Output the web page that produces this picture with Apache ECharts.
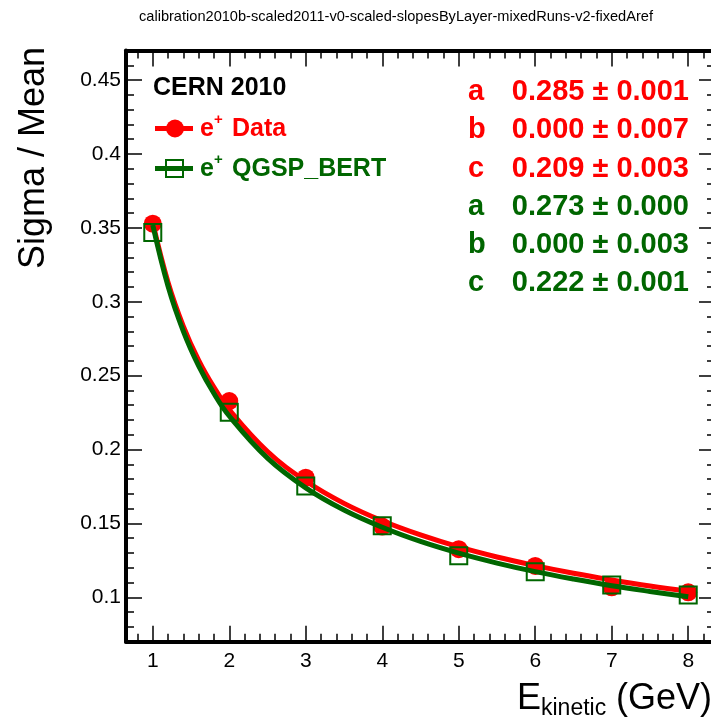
<!DOCTYPE html>
<html><head><meta charset="utf-8">
<script src="https://cdn.jsdelivr.net/npm/echarts@6/dist/echarts.min.js"></script>
<style>html,body{margin:0;padding:0;background:#fff;}#c{width:711px;height:721px;}</style>
</head><body><div id="c"></div>
<script>
// ---- data ----
const energies = [1, 2, 3, 4, 5, 6, 7, 8];
const dataValues = [0.3528, 0.2328, 0.1810, 0.1479, 0.1326, 0.1213, 0.1068, 0.1034];
const mcValues = [0.3469, 0.2253, 0.1754, 0.1484, 0.1281, 0.1173, 0.1083, 0.1016];
const fitEnergies = [1, 1.2, 1.4, 1.6, 1.8, 2, 2.5, 3, 3.5, 4, 4.5, 5, 5.5, 6, 6.5, 7, 7.5, 8];
const dataFitValues = [0.3534, 0.3131, 0.2834, 0.2604, 0.2421, 0.2270, 0.1987, 0.1787, 0.1636, 0.1518, 0.1422, 0.1341, 0.1273, 0.1215, 0.1163, 0.1118, 0.1077, 0.1041];
const mcFitValues = [0.3519, 0.3104, 0.2800, 0.2566, 0.2379, 0.2227, 0.1942, 0.1741, 0.1591, 0.1474, 0.1378, 0.1299, 0.1232, 0.1174, 0.1124, 0.1079, 0.1040, 0.1004];
const xTickLabels = [1, 2, 3, 4, 5, 6, 7, 8];
const yTickLabels = [0.1, 0.15, 0.2, 0.25, 0.3, 0.35, 0.4, 0.45];
const paramNames = ['a', 'b', 'c'];
const dataParams = ['0.285 ± 0.001', '0.000 ± 0.007', '0.209 ± 0.003'];
const mcParams = ['0.273 ± 0.000', '0.000 ± 0.003', '0.222 ± 0.001'];
const titleText = 'calibration2010b-scaled2011-v0-scaled-slopesByLayer-mixedRuns-v2-fixedAref';

// ---- styling ----
const FONT = '"Liberation Sans", Arial, Helvetica, sans-serif';
const RED = '#ff0000', GREEN = '#006600';
const X_MIN = 0.65, X_MAX = 8.35, Y_MIN = 0.07, Y_MAX = 0.47;

const xMinor = []; for (let i = 4; i <= 41; i++) xMinor.push(+(i * 0.2).toFixed(2));
const yMinor = []; for (let i = 7; i <= 47; i++) yMinor.push(+(i * 0.01).toFixed(2));

function mkX(pos, ticks, len, showLine, labels) {
  return {
    type: 'value', position: pos, min: X_MIN, max: X_MAX,
    axisLine: { show: showLine, onZero: false, lineStyle: { color: '#000', width: 4 } },
    axisTick: { show: true, inside: true, length: len, customValues: ticks, lineStyle: { color: '#000', width: 1.5 } },
    axisLabel: labels ? { show: true, customValues: labels, fontSize: 21, color: '#000', fontFamily: FONT, margin: 9 } : { show: false },
    splitLine: { show: false }
  };
}
function mkY(pos, ticks, len, showLine, labels) {
  return {
    type: 'value', position: pos, min: Y_MIN, max: Y_MAX,
    axisLine: { show: showLine, onZero: false, lineStyle: { color: '#000', width: 4 } },
    axisTick: { show: true, inside: true, length: len, customValues: ticks, lineStyle: { color: '#000', width: 1.5 } },
    axisLabel: labels ? { show: true, customValues: labels, fontSize: 21, color: '#000', fontFamily: FONT, margin: 5 } : { show: false },
    splitLine: { show: false }
  };
}

const graphics = [];
function txt(x, y, text, size, color, weight, align, extra) {
  graphics.push(Object.assign({
    type: 'text', x: x, y: y, z: 100,
    style: { text: text, fill: color, fontSize: size, fontFamily: FONT, fontWeight: weight, align: align, verticalAlign: 'middle' }
  }, extra || {}));
}
// title
txt(396, 17, titleText, 14.6, '#000', 'normal', 'center');
// y axis title
txt(34, 47, 'Sigma / Mean', 36, '#000', 'normal', 'right', { rotation: Math.PI / 2 });
// x axis title
txt(517, 699, 'E', 36, '#000', 'normal', 'left');
txt(541, 709, 'kinetic', 23, '#000', 'normal', 'left');
txt(616, 699, '(GeV)', 36, '#000', 'normal', 'left');
// legend
txt(153, 88, 'CERN 2010', 25, '#000', 'bold', 'left');
graphics.push({ type: 'line', z: 100, shape: { x1: 155, y1: 128.5, x2: 193, y2: 128.5 }, style: { stroke: RED, lineWidth: 5 } });
graphics.push({ type: 'circle', z: 101, shape: { cx: 175, cy: 128.5, r: 9 }, style: { fill: RED } });
txt(200, 129, 'e', 25, RED, 'bold', 'left');
txt(214, 120, '+', 15, RED, 'bold', 'left');
txt(232, 129, 'Data', 25, RED, 'bold', 'left');
graphics.push({ type: 'line', z: 100, shape: { x1: 155, y1: 168.5, x2: 193, y2: 168.5 }, style: { stroke: GREEN, lineWidth: 5 } });
graphics.push({ type: 'rect', z: 101, shape: { x: 166, y: 160, width: 17, height: 17 }, style: { fill: 'none', stroke: GREEN, lineWidth: 2 } });
txt(200, 169, 'e', 25, GREEN, 'bold', 'left');
txt(214, 160, '+', 15, GREEN, 'bold', 'left');
txt(232, 169, 'QGSP_BERT', 25, GREEN, 'bold', 'left');
// fit parameters
const rowY = [92, 130, 168.5, 206.5, 244.5, 283];
paramNames.forEach((p, i) => {
  txt(468, rowY[i], p, 29, RED, 'bold', 'left');
  txt(689, rowY[i], dataParams[i], 29, RED, 'bold', 'right');
  txt(468, rowY[i + 3], p, 29, GREEN, 'bold', 'left');
  txt(689, rowY[i + 3], mcParams[i], 29, GREEN, 'bold', 'right');
});

const chart = echarts.init(document.getElementById('c'), null, { renderer: 'canvas' });
chart.setOption({
  animation: false,
  backgroundColor: '#fff',
  grid: { left: 126, right: -4, top: 50.5, bottom: 79.3, containLabel: false, outerBoundsMode: 'none' },
  xAxis: [
    mkX('bottom', xTickLabels, 16, true, xTickLabels),
    mkX('bottom', xMinor, 8, false, null),
    mkX('top', xTickLabels, 16, true, null),
    mkX('top', xMinor, 8, false, null)
  ],
  yAxis: [
    mkY('left', yTickLabels, 16, true, yTickLabels),
    mkY('left', yMinor, 8, false, null),
    mkY('right', yTickLabels, 16, true, null),
    mkY('right', yMinor, 8, false, null)
  ],
  series: [
    { type: 'scatter', name: 'e+ Data', data: energies.map((e, i) => [e, dataValues[i]]), symbol: 'circle', symbolSize: 18, itemStyle: { color: RED, opacity: 1 }, z: 2 },
    { type: 'line', name: 'Data fit', data: fitEnergies.map((e, i) => [e, dataFitValues[i]]), smooth: 0.4, showSymbol: false, symbol: 'none', lineStyle: { color: RED, width: 5 }, z: 3 },
    { type: 'scatter', name: 'e+ QGSP_BERT', data: energies.map((e, i) => [e, mcValues[i]]), symbol: 'rect', symbolSize: 17, itemStyle: { color: 'rgba(0,0,0,0)', borderColor: GREEN, borderWidth: 2, opacity: 1 }, z: 4 },
    { type: 'line', name: 'QGSP fit', data: fitEnergies.map((e, i) => [e, mcFitValues[i]]), smooth: 0.4, showSymbol: false, symbol: 'none', lineStyle: { color: GREEN, width: 5 }, z: 5 }
  ],
  graphic: { elements: graphics }
});
</script>
</body></html>
